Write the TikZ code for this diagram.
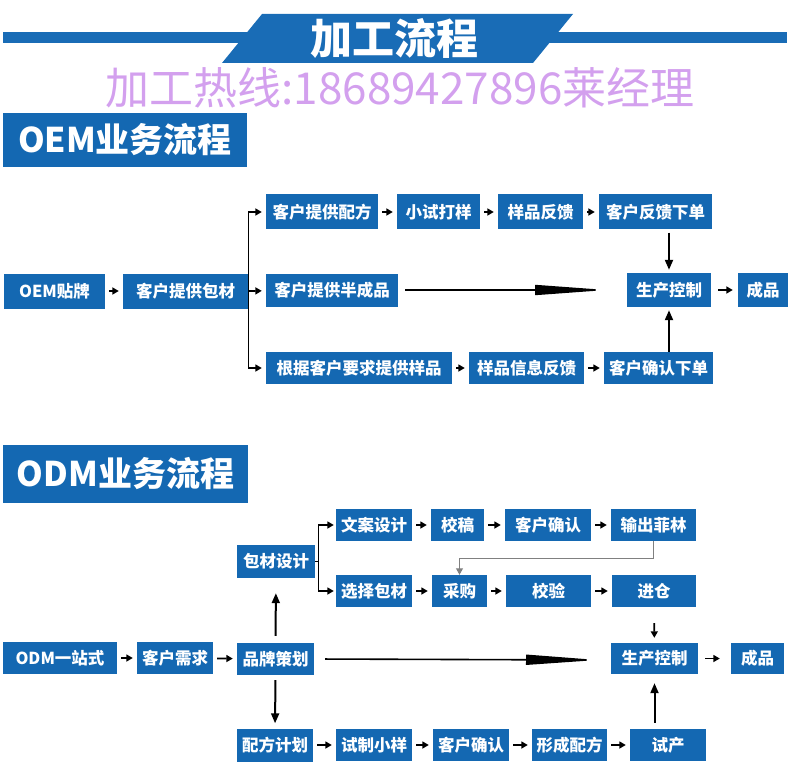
\documentclass[tikz,border=0pt]{standalone}
\usepackage{fontspec}
\usepackage{tikz}
\usetikzlibrary{arrows.meta,calc}
\newfontfamily\cjk{Noto Sans CJK SC}
\definecolor{boxblue}{HTML}{1468B2}
\definecolor{bandblue}{HTML}{196CB6}
\definecolor{hotline}{HTML}{D3A0EE}
\tikzset{
  >={Triangle[length=6.5pt,width=7pt]},
  box/.style={fill=boxblue,text=white,font=\cjk\bfseries\fontsize{16.5}{17}\selectfont,
              inner sep=0pt,minimum height=33pt},
  headbox/.style={fill=boxblue,text=white,font=\cjk\bfseries\fontsize{34}{36}\selectfont,
                  inner sep=0pt},
  flow/.style={->,line width=1.8pt,shorten <=4pt,shorten >=4pt},
  upflow/.style={-{Triangle[length=10pt,width=8pt]},line width=2pt},
  branch/.style={line width=1pt},
  longflow/.style={-{Triangle[length=72pt,width=10pt]},line width=1.6pt},
  feedback/.style={->,draw=gray,line width=1pt},
}
\begin{document}
\begin{tikzpicture}[x=1pt,y=-1pt]
  \useasboundingbox (0,0) rectangle (790,770);
  % title band
  \fill[bandblue] (3,32) rectangle (787,43);
  \fill[bandblue] (262,14) -- (573,14) -- (533,63) -- (222,63) -- cycle;
  \node[text=white,font=\cjk\bfseries\fontsize{42}{44}\selectfont] (title) at (394,38) {加工流程};
  \node[text=hotline,font=\cjk\fontsize{44}{46}\selectfont] (hot) at (400,88) {加工热线:18689427896莱经理};

  % OEM
  \node[headbox,minimum width=244pt,minimum height=54pt] (oemhead) at (125,140) {OEM业务流程};
  \node[box,minimum width=101pt,minimum height=35pt] (oem) at (54.5,291) {OEM贴牌};
  \node[box,minimum width=125pt,minimum height=35pt] (obc) at (185.5,291) {客户提供包材};
  \node[box,minimum width=112pt,minimum height=35pt] (opf) at (322,212) {客户提供配方};
  \node[box,minimum width=83pt,minimum height=35pt] (osy) at (438.5,212) {小试打样};
  \node[box,minimum width=85pt,minimum height=35pt] (ofk) at (540.5,212) {样品反馈};
  \node[box,minimum width=113pt,minimum height=35pt] (oxd) at (655.5,212) {客户反馈下单};
  \node[box,minimum width=132pt] (obcp) at (332,290) {客户提供半成品};
  \node[box,minimum width=84pt,minimum height=34pt] (opc) at (669,290) {生产控制};
  \node[box,minimum width=50pt,minimum height=34pt] (ocp) at (763,290) {成品};
  \node[box,minimum width=186pt,minimum height=32pt] (oyp) at (359,368) {根据客户要求提供样品};
  \node[box,minimum width=115pt,minimum height=32pt] (oxx) at (526.5,368) {样品信息反馈};
  \node[box,minimum width=109pt,minimum height=32pt] (oqr) at (658.5,368) {客户确认下单};
  \coordinate (oend) at (607,290);

  \draw[flow] (oem) -- (obc);
  \draw[branch] (obc.east |- opf) -- (obc.east |- oyp);
  \draw[flow,shorten <=0pt] (obc.east |- opf) -- (opf);
  \draw[flow,shorten <=0pt] (obc.east) -- (obcp);
  \draw[flow,shorten <=0pt] (obc.east |- oyp) -- (oyp);
  \draw[flow] (opf) -- (osy);
  \draw[flow] (osy) -- (ofk);
  \draw[flow] (ofk) -- (oxd);
  \draw[upflow,shorten <=3pt,shorten >=3pt] (opc |- oxd.south) -- (opc.north);
  \draw[longflow,shorten <=7pt] (obcp.east) -- (oend);
  \draw[flow,shorten <=7pt,shorten >=5pt] (opc) -- (ocp);
  \draw[flow] (oyp) -- (oxx);
  \draw[flow] (oxx) -- (oqr);
  \draw[upflow,shorten >=3pt] (opc |- oqr.north) -- (opc.south);

  % ODM
  \node[headbox,minimum width=245pt,minimum height=58pt] (odmhead) at (125.5,474) {ODM业务流程};
  \node[box,minimum width=114pt,minimum height=32pt] (odm) at (60,658) {ODM一站式};
  \node[box,minimum width=76pt,minimum height=32pt] (dxq) at (175,658) {客户需求};
  \node[box,minimum width=77pt,minimum height=32pt] (ppch) at (275.5,659) {品牌策划};
  \node[box,minimum width=78pt] (bcsj) at (276,561.5) {包材设计};
  \node[box,minimum width=76pt] (pfjh) at (275,745) {配方计划};
  \node[box,minimum width=76pt,minimum height=32pt] (wasj) at (374,525) {文案设计};
  \node[box,minimum width=53pt,minimum height=32pt] (jg) at (457.5,525) {校稿};
  \node[box,minimum width=86pt,minimum height=32pt] (khqr) at (548,525) {客户确认};
  \node[box,minimum width=85pt,minimum height=32pt] (scfl) at (653.5,525) {输出菲林};
  \node[box,minimum width=76pt,minimum height=32pt] (xzbc) at (374,591) {选择包材};
  \node[box,minimum width=55pt,minimum height=32pt] (cg) at (459.5,591) {采购};
  \node[box,minimum width=85pt,minimum height=32pt] (jy) at (548.5,591) {校验};
  \node[box,minimum width=84pt,minimum height=32pt] (jc) at (654,591) {进仓};
  \node[box,minimum width=87pt,minimum height=31pt] (dpc) at (654.5,658.5) {生产控制};
  \node[box,minimum width=53pt,minimum height=31pt] (dcp) at (757.5,658.5) {成品};
  \node[box,minimum width=76pt,minimum height=32pt] (szxy) at (374,745) {试制小样};
  \node[box,minimum width=76pt,minimum height=32pt] (khqrb) at (471,745) {客户确认};
  \node[box,minimum width=75pt,minimum height=32pt] (xcpf) at (569.5,745) {形成配方};
  \node[box,minimum width=76pt,minimum height=32pt] (sc) at (668,745) {试产};
  \coordinate (dend) at (598,660);

  \draw[flow] (odm) -- (dxq);
  \draw[flow] (dxq) -- (ppch);
  \draw[upflow,shorten <=7pt,shorten >=15pt] (ppch.north) -- (bcsj.south);
  \draw[upflow,shorten <=5pt,shorten >=5pt] (ppch.south) -- (pfjh.north);
  \draw[branch] (bcsj.east) -- ++(3,0);
  \draw[branch] ($(bcsj.east |- wasj)+(3,0)$) -- ($(bcsj.east |- xzbc)+(3,0)$);
  \draw[flow,shorten <=0pt,shorten >=2pt] ($(bcsj.east |- wasj)+(3,0)$) -- (wasj);
  \draw[flow,shorten <=0pt,shorten >=2pt] ($(bcsj.east |- xzbc)+(3,0)$) -- (xzbc);
  \draw[flow] (wasj) -- (jg);
  \draw[flow] (jg) -- (khqr);
  \draw[flow] (khqr) -- (scfl);
  \draw[feedback] (scfl.south) -- ($(scfl.south)+(0,17)$) -| (cg.north);
  \draw[flow] (xzbc) -- (cg);
  \draw[flow] (cg) -- (jy);
  \draw[flow] (jy) -- (jc);
  \draw[flow,shorten <=16pt,shorten >=5pt] (jc) -- (dpc);
  \draw[longflow,shorten <=11pt] (ppch.east) -- (dend);
  \draw[flow,shorten <=7pt,shorten >=11pt] (dpc) -- (dcp);
  \draw[flow] (pfjh) -- (szxy);
  \draw[flow] (szxy) -- (khqrb);
  \draw[flow] (khqrb) -- (xcpf);
  \draw[flow] (xcpf) -- (sc);
  \draw[upflow,shorten <=6pt,shorten >=9pt] (dpc |- sc.north) -- (dpc.south);
\end{tikzpicture}
\end{document}
